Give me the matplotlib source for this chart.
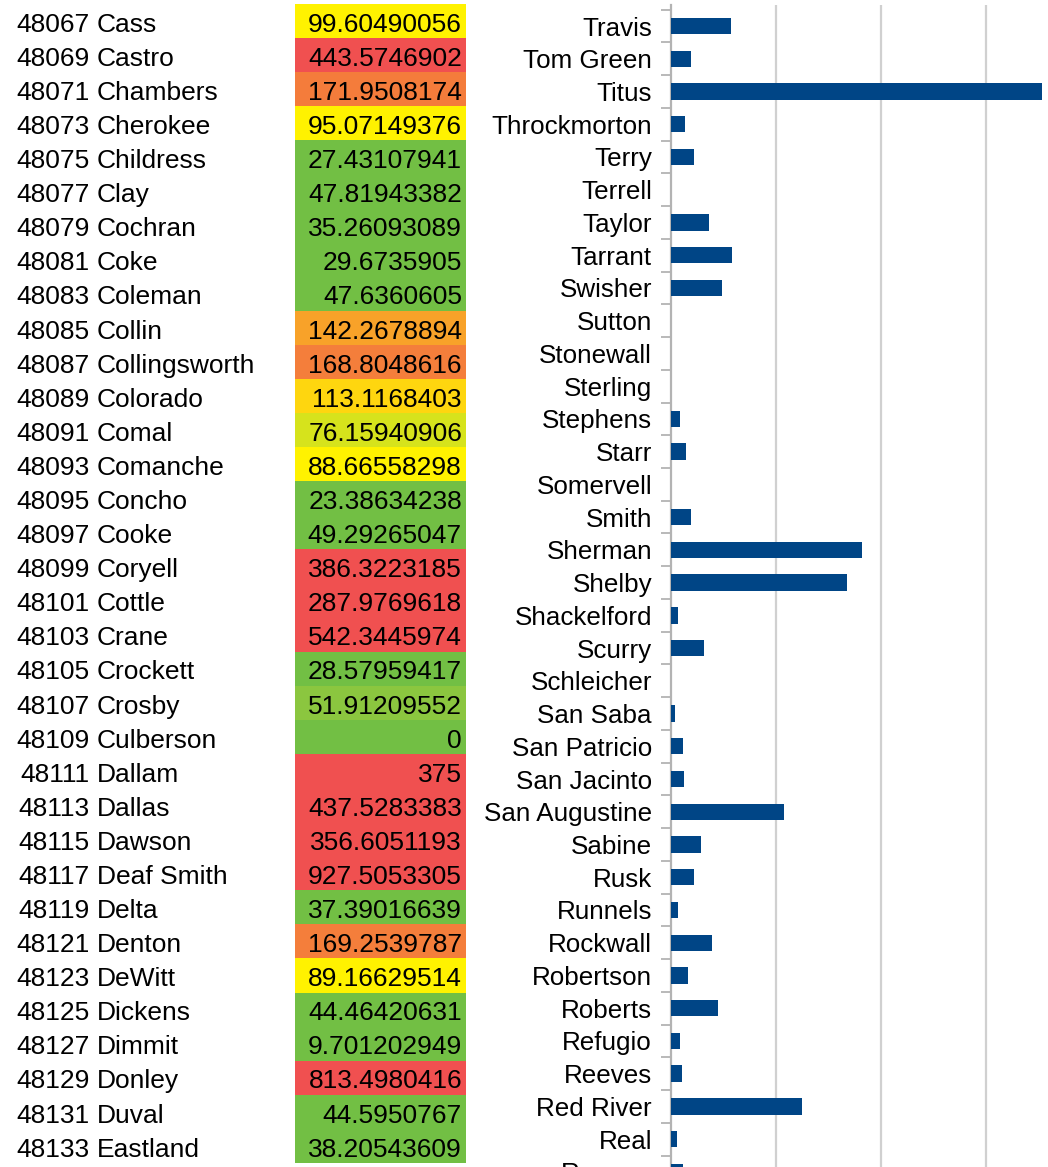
import matplotlib
matplotlib.use("Agg")
import matplotlib.pyplot as plt
from matplotlib.colors import LinearSegmentedColormap, Normalize
import numpy as np

plt.rcParams['font.family'] = ['Liberation Sans', 'DejaVu Sans']

# ---- sheet table: county FIPS, name and rate ----
fips = [48067, 48069, 48071, 48073, 48075, 48077, 48079, 48081, 48083, 48085,
        48087, 48089, 48091, 48093, 48095, 48097, 48099, 48101, 48103, 48105,
        48107, 48109, 48111, 48113, 48115, 48117, 48119, 48121, 48123, 48125,
        48127, 48129, 48131, 48133]
counties = ["Cass", "Castro", "Chambers", "Cherokee", "Childress", "Clay",
            "Cochran", "Coke", "Coleman", "Collin", "Collingsworth", "Colorado",
            "Comal", "Comanche", "Concho", "Cooke", "Coryell", "Cottle", "Crane",
            "Crockett", "Crosby", "Culberson", "Dallam", "Dallas", "Dawson",
            "Deaf Smith", "Delta", "Denton", "DeWitt", "Dickens", "Dimmit",
            "Donley", "Duval", "Eastland"]
rates = [99.60490056, 443.5746902, 171.9508174, 95.07149376, 27.43107941,
         47.81943382, 35.26093089, 29.6735905, 47.6360605, 142.2678894,
         168.8048616, 113.1168403, 76.15940906, 88.66558298, 23.38634238,
         49.29265047, 386.3223185, 287.9769618, 542.3445974, 28.57959417,
         51.91209552, 0, 375, 437.5283383, 356.6051193, 927.5053305,
         37.39016639, 169.2539787, 89.16629514, 44.46420631, 9.701202949,
         813.4980416, 44.5950767, 38.20543609]

# ---- chart: counties in reverse alphabetical order ----
bar_counties = ["Travis", "Tom Green", "Titus", "Throckmorton", "Terry", "Terrell",
                "Taylor", "Tarrant", "Swisher", "Sutton", "Stonewall", "Sterling",
                "Stephens", "Starr", "Somervell", "Smith", "Sherman", "Shelby",
                "Shackelford", "Scurry", "Schleicher", "San Saba", "San Patricio",
                "San Jacinto", "San Augustine", "Sabine", "Rusk", "Runnels",
                "Rockwall", "Robertson", "Roberts", "Refugio", "Reeves",
                "Red River", "Real", "Reagan"]
bar_values = [57, 19, 354, 13, 22, 0, 36, 58, 49, 0, 0, 0, 8.6, 14.3, 0, 19,
              182, 168, 6.7, 31.5, 0, 3.8, 11.4, 12.4, 108, 28.6, 22, 6.7, 39,
              16.2, 44.8, 8.6, 10.5, 125, 5.7, 11.4]

W, H = 1048, 1167
fig = plt.figure(figsize=(W / 100, H / 100), dpi=100)


def px_axes(left, top, right, bottom):
    """Axes placed by pixel edges (origin at the top-left)."""
    return fig.add_axes([left / W, 1 - bottom / H, (right - left) / W, (bottom - top) / H])


# colour scale used for the rate column
scale_stops = [(0, '#72bf44'), (50, '#72bf44'), (52, '#8cc63f'), (76, '#d5e31c'),
               (88, '#fff200'), (100, '#fff200'), (113, '#fed60f'), (142, '#f8a229'),
               (169, '#f47e3b'), (172, '#f47c3b'), (250, '#f05050'), (1000, '#f05050')]
vmax = 1000.0
cmap = LinearSegmentedColormap.from_list(
    "rate_scale", [(v / vmax, c) for v, c in scale_stops], N=20000)
norm = Normalize(0, vmax)

# ---- table ----
tab = px_axes(0, 4, 470, 1163)
rows = np.arange(len(fips))
tab.set_xlim(0, 470)
tab.set_ylim(len(fips) - 0.5, -0.5)
tab.axis('off')
tab.barh(rows, width=170.7, left=295, height=1.0,
         color=[cmap(norm(v)) for v in rates], linewidth=0)
fs_tab = 19
for r, code, name, v in zip(rows, fips, counties, rates):
    yb = r + 0.314
    tab.text(89.5, yb, str(code), ha='right', va='baseline', fontsize=fs_tab, color='black')
    tab.text(96.7, yb, name, ha='left', va='baseline', fontsize=fs_tab, color='black')
    tab.text(462, yb, f"{v:.10g}", ha='right', va='baseline', fontsize=fs_tab, color='black')

# ---- bar chart ----
step = 32.74
first_center = 26.0
top_px, bot_px = 5, 1200
ax = px_axes(671, top_px, 671 + 4 * 104.9, bot_px)
pos = np.arange(len(bar_counties))
ax.barh(pos, bar_values, height=0.5, color='#004586', linewidth=0, zorder=3)
ax.set_xlim(0, 400)
ax.set_ylim((bot_px - first_center) / step, (top_px - first_center) / step)

ax.set_xticks([100, 200, 300, 400])
ax.tick_params(axis='x', bottom=False, labelbottom=False)
ax.grid(axis='x', color='#d0d0d0', linewidth=1.6, zorder=0)
ax.set_axisbelow(True)

ax.set_yticks(pos)
ax.set_yticklabels(bar_counties, fontsize=18.7)
ax.set_yticks(np.arange(-0.5, len(bar_counties) + 0.5, 1.0), minor=True)
ax.tick_params(axis='y', which='major', length=0, pad=13.7, labelcolor='black')
ax.tick_params(axis='y', which='minor', length=7.5, width=1.3, color='#b3b3b3')

for side in ('top', 'right', 'bottom'):
    ax.spines[side].set_visible(False)
ax.spines['left'].set_color('#b3b3b3')
ax.spines['left'].set_linewidth(1.6)

fig.savefig('out.png', dpi=100)
